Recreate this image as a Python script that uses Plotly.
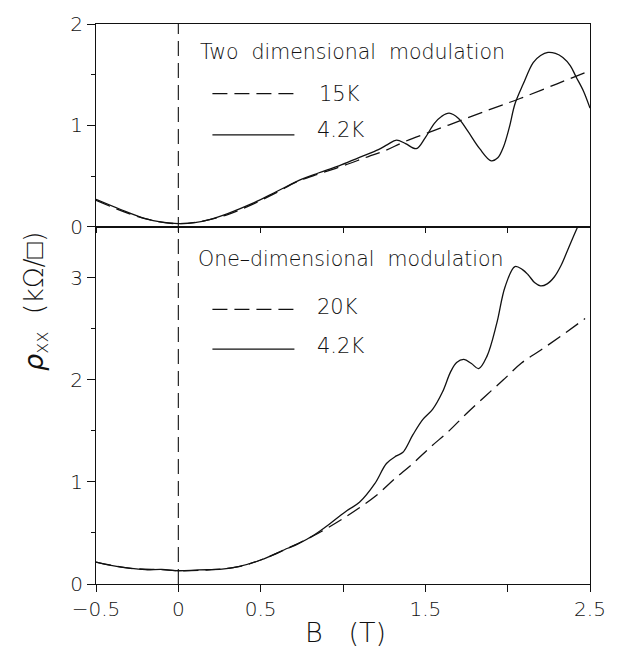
import plotly.graph_objects as go

# ---- data: two-dimensional modulation (top panel) ----
top_B_42 = [-0.5, -0.35, -0.2, -0.1, 0.0, 0.1, 0.2, 0.3, 0.45, 0.6, 0.75, 0.85, 0.975, 1.1, 1.215,
            1.27, 1.325, 1.38, 1.445, 1.5, 1.555, 1.6, 1.645, 1.7, 1.755, 1.83, 1.9, 1.94, 1.975,
            2.01, 2.045, 2.095, 2.155, 2.2, 2.245, 2.29, 2.335, 2.38, 2.415, 2.46, 2.5]
top_rho_42 = [0.27, 0.17, 0.08, 0.045, 0.03, 0.04, 0.075, 0.13, 0.23, 0.35, 0.47, 0.53, 0.60, 0.685, 0.76,
              0.81, 0.855, 0.82, 0.77, 0.88, 1.02, 1.09, 1.12, 1.07, 0.95, 0.77, 0.65, 0.68, 0.79,
              0.98, 1.215, 1.41, 1.62, 1.69, 1.72, 1.71, 1.67, 1.59, 1.48, 1.34, 1.17]
top_B_15 = [-0.5, -0.3, -0.15, 0.0, 0.15, 0.3, 0.45, 0.6, 0.715, 0.85, 1.0, 1.15, 1.255, 1.375,
            1.555, 1.75, 1.915, 2.075, 2.3, 2.5]
top_rho_15 = [0.26, 0.13, 0.06, 0.03, 0.055, 0.12, 0.22, 0.34, 0.44, 0.52, 0.60, 0.69, 0.75, 0.84,
              0.95, 1.07, 1.17, 1.265, 1.41, 1.54]

# ---- data: one-dimensional modulation (bottom panel) ----
bot_B_42 = [-0.5, -0.4, -0.3, -0.2, -0.1, 0.0, 0.125, 0.265, 0.365, 0.5, 0.664, 0.724, 0.824, 0.924,
            1.025, 1.1, 1.194, 1.264, 1.324, 1.364, 1.424, 1.484, 1.544, 1.604, 1.654, 1.69, 1.734,
            1.78, 1.824, 1.874, 1.934, 1.984, 2.044, 2.09, 2.124, 2.165, 2.2, 2.24, 2.284, 2.324,
            2.364, 2.42, 2.47]
bot_rho_42 = [0.215, 0.18, 0.155, 0.14, 0.143, 0.13, 0.138, 0.145, 0.17, 0.235, 0.35, 0.39, 0.48, 0.595,
              0.72, 0.80, 0.985, 1.18, 1.255, 1.29, 1.46, 1.61, 1.71, 1.88, 2.08, 2.17, 2.20,
              2.16, 2.11, 2.23, 2.555, 2.91, 3.11, 3.08, 3.03, 2.95, 2.92, 2.94, 3.01, 3.12,
              3.27, 3.48, 3.65]
bot_B_20 = [-0.5, -0.3, -0.1, 0.0, 0.2, 0.365, 0.5, 0.664, 0.824, 0.964, 1.084, 1.204, 1.314, 1.424,
            1.534, 1.644, 1.744, 1.864, 1.974, 2.084, 2.204, 2.324, 2.47]
bot_rho_20 = [0.215, 0.155, 0.14, 0.13, 0.14, 0.17, 0.235, 0.35, 0.475, 0.605, 0.73, 0.87, 1.03, 1.18,
              1.345, 1.50, 1.66, 1.84, 2.00, 2.165, 2.295, 2.43, 2.60]

x_tickvals = [-0.5, 0, 0.5, 1.5, 2.5]
x_ticktext = ["\u22120.5", "0", "0.5", "1.5", "2.5"]

FONT = "DejaVu Sans"
INK = "#111111"
DASH = "15px,7px"

fig = go.Figure()
lw = 1.3
fig.add_trace(go.Scatter(x=top_B_15, y=top_rho_15, mode="lines", line=dict(color=INK, width=lw, dash=DASH, shape="spline"),
                         xaxis="x", yaxis="y2", showlegend=False))
fig.add_trace(go.Scatter(x=top_B_42, y=top_rho_42, mode="lines", line=dict(color=INK, width=lw, shape="spline"),
                         xaxis="x", yaxis="y2", showlegend=False))
fig.add_trace(go.Scatter(x=bot_B_20, y=bot_rho_20, mode="lines", line=dict(color=INK, width=lw, dash=DASH, shape="spline"),
                         xaxis="x2", yaxis="y", showlegend=False))
fig.add_trace(go.Scatter(x=bot_B_42, y=bot_rho_42, mode="lines", line=dict(color=INK, width=lw, shape="spline"),
                         xaxis="x2", yaxis="y", showlegend=False))

split = 0.638
tickfont = dict(family=FONT, size=20, color=INK, weight=300)
common_x = dict(range=[-0.5, 2.5], tickvals=x_tickvals, showline=True, linecolor=INK, linewidth=1.2,
                mirror=True, ticks="outside", tickcolor=INK, tickwidth=1, showgrid=False,
                zeroline=False)
fig.update_layout(
    width=618, height=652,
    margin=dict(l=96, r=21, t=20, b=68),
    paper_bgcolor="white", plot_bgcolor="white",
    xaxis=dict(**common_x, domain=[0, 1], anchor="y2", showticklabels=False, matches="x2", ticklen=5,
               minor=dict(tick0=0, dtick=0.5, ticks="outside", ticklen=5, tickcolor=INK, showgrid=False)),
    xaxis2=dict(**common_x, domain=[0, 1], anchor="y", ticktext=x_ticktext, tickfont=tickfont, ticklen=7,
                minor=dict(tick0=0, dtick=0.5, ticks="outside", ticklen=7, tickcolor=INK, showgrid=False)),
    yaxis2=dict(domain=[split, 1], range=[0, 2], anchor="x", tickvals=[0, 1, 2], showline=True, linecolor=INK,
                linewidth=1.2, mirror=True, ticks="outside", ticklen=8, tickcolor=INK, showgrid=False,
                zeroline=False, tickfont=tickfont,
                minor=dict(dtick=0.5, ticks="outside", ticklen=4, tickcolor=INK, showgrid=False)),
    yaxis=dict(domain=[0, split], range=[0, 3.5], anchor="x2", tickvals=[0, 1, 2, 3], showline=True,
               linecolor=INK, linewidth=1.2, mirror=True, ticks="outside", ticklen=8, tickcolor=INK,
               showgrid=False, zeroline=False, tickfont=tickfont,
               minor=dict(dtick=0.5, ticks="outside", ticklen=4, tickcolor=INK, showgrid=False)),
)

# vertical dashed line at B = 0 through both panels
fig.add_shape(type="line", xref="x2", yref="paper", x0=0, x1=0, y0=0, y1=1,
              line=dict(color=INK, width=1.1, dash=DASH))

# legend keys
fig.add_shape(type="line", xref="x", yref="y2", x0=0.207, x1=0.705, y0=1.314, y1=1.314,
              line=dict(color=INK, width=lw, dash=DASH))
fig.add_shape(type="line", xref="x", yref="y2", x0=0.207, x1=0.705, y0=0.907, y1=0.907,
              line=dict(color=INK, width=lw))
fig.add_shape(type="line", xref="x2", yref="y", x0=0.207, x1=0.705, y0=2.69, y1=2.69,
              line=dict(color=INK, width=lw, dash=DASH))
fig.add_shape(type="line", xref="x2", yref="y", x0=0.207, x1=0.705, y0=2.30, y1=2.30,
              line=dict(color=INK, width=lw))

def label(text, x, y, xr, yr, size=20.5):
    fig.add_annotation(text=text, x=x, y=y, xref=xr, yref=yr, xanchor="left", yanchor="middle",
                       showarrow=False, font=dict(family=FONT, size=size, color=INK, weight=300))

label("Two  dimensional  modulation", 0.117, 1.725, "x", "y2")
label("15K", 0.843, 1.314, "x", "y2", 21)
label("4.2K", 0.831, 0.95, "x", "y2", 21)
label("One\u2013dimensional  modulation", 0.105, 3.185, "x2", "y")
label("20K", 0.831, 2.717, "x2", "y", 21)
label("4.2K", 0.831, 2.328, "x2", "y", 21)

# axis titles
fig.add_annotation(text="B   (T)", x=0.506, y=-0.087, xref="paper", yref="paper", xanchor="center",
                   yanchor="middle", showarrow=False, font=dict(family=FONT, size=27, color=INK, weight=300))
fig.add_annotation(text="<i>\u03c1</i><sub>xx</sub>  (k\u03a9/\u25a1)", x=-0.124, y=0.505, xref="paper", yref="paper",
                   xanchor="center", yanchor="middle", textangle=-90, showarrow=False,
                   font=dict(family=FONT, size=27, color=INK, weight=300))

fig.write_html("out.html")
